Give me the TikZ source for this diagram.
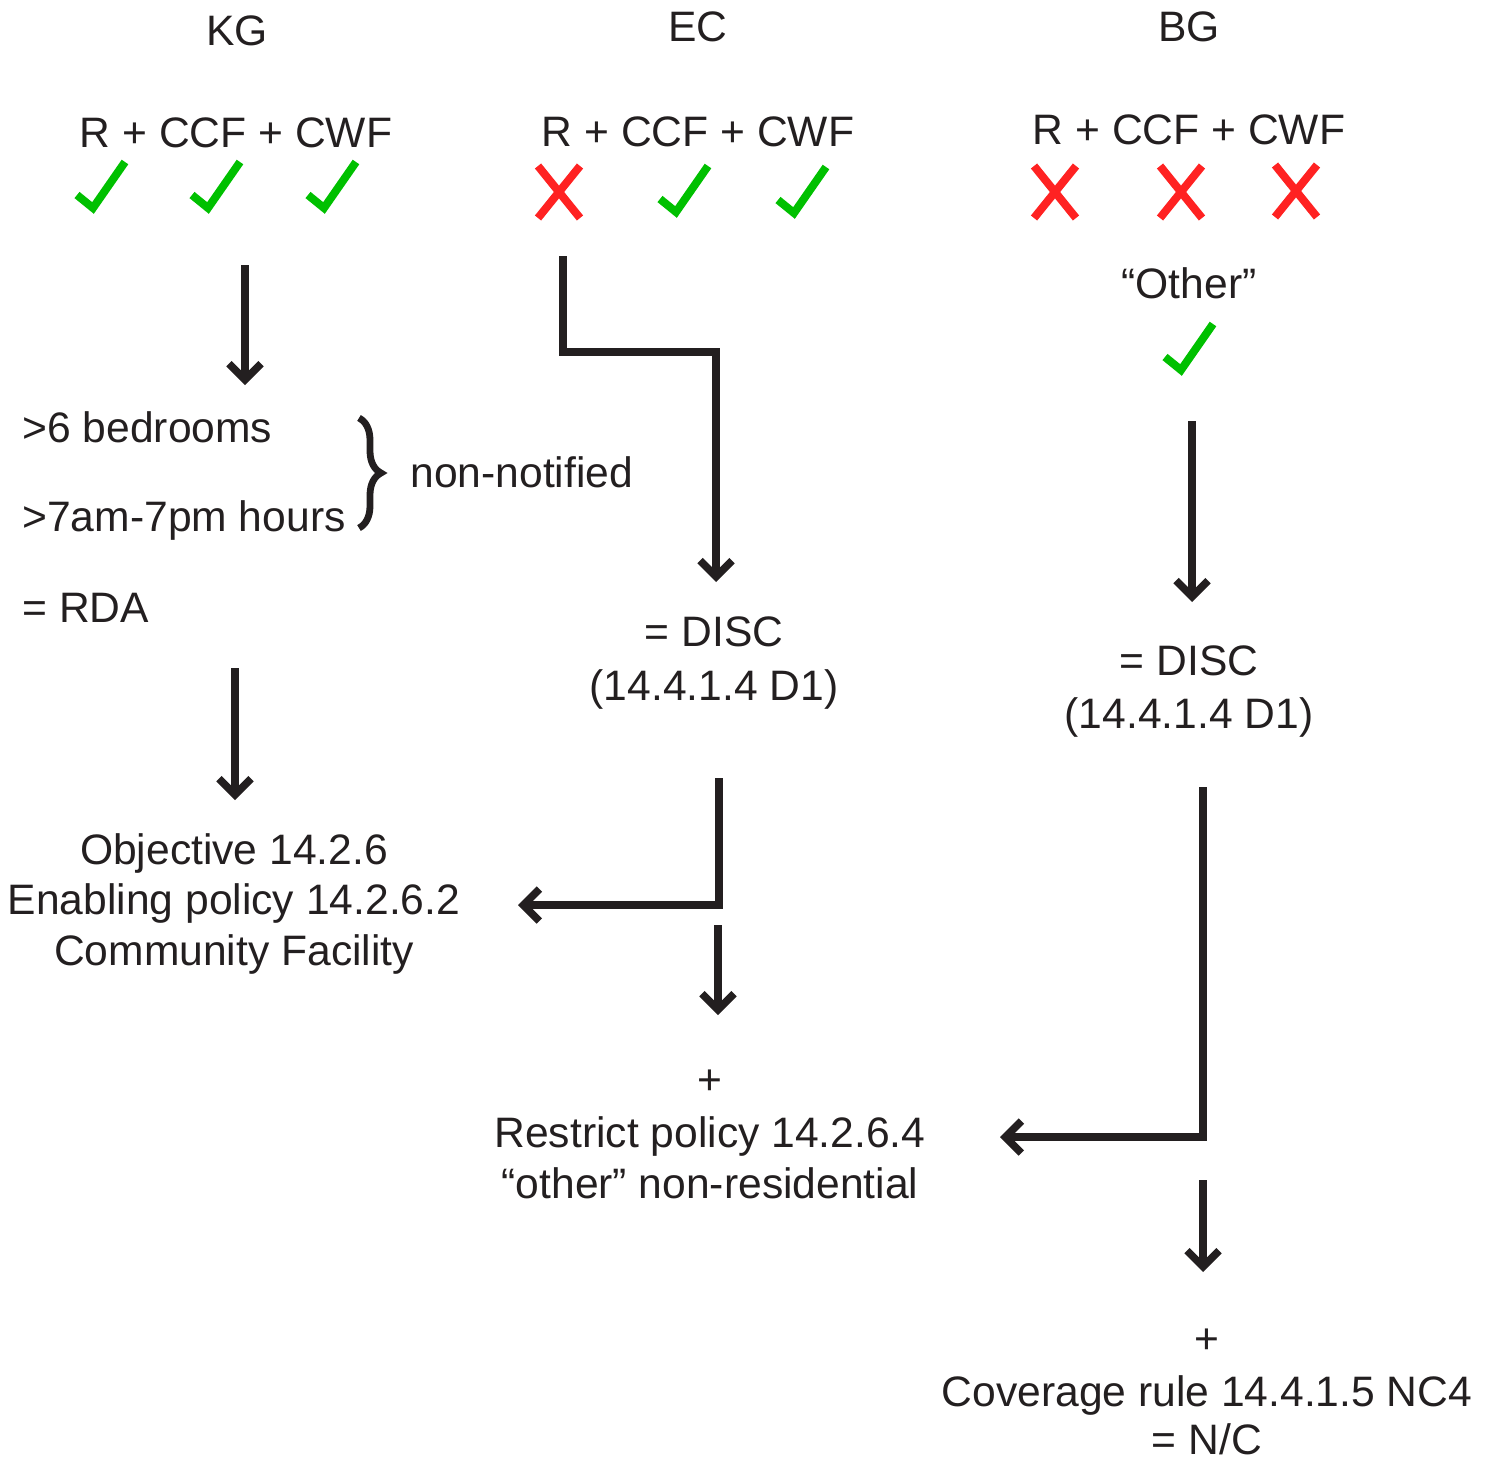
\documentclass[tikz,border=0pt]{standalone}
\usepackage{fontspec}
\setmainfont{Liberation Sans}
\usetikzlibrary{arrows.meta,decorations.pathreplacing}
\definecolor{ink}{HTML}{231F20}
\definecolor{okgreen}{HTML}{00C000}
\definecolor{nored}{HTML}{FF2222}
\begin{document}
\begin{tikzpicture}[x=0.5pt,y=-0.5pt,
 txt/.style={font=\fontsize{21.3}{25}\selectfont, text=ink, inner sep=0pt, anchor=base},
 ltxt/.style={txt, anchor=base west},
 flow/.style={draw=ink, line width=3.8pt, -{Straight Barb[length=8pt,width=16pt]}, line join=miter},
 chkline/.style={draw=okgreen, line width=4pt, line join=miter, line cap=butt},
 xline/.style={draw=nored, line width=4pt},
 chk/.pic={\draw[chkline] (-16,-13) -- (0,0) -- (32,-46);},
 crs/.pic={\draw[xline] (-21,-26) -- (21,26) (-21,26) -- (21,-26);},
]
\useasboundingbox (0,0) rectangle (1487,1461);
% headings
\node[txt] (kg) at (237,46) {KG};
\node[txt] (ec) at (698,42) {EC};
\node[txt] (bg) at (1189,42) {BG};
\node[txt] (kgf) at (236,148) {R + CCF + CWF};
\node[txt] (ecf) at (698,147) {R + CCF + CWF};
\node[txt] (bgf) at (1189,144) {R + CCF + CWF};
% marks
\pic at (93,208) {chk};
\pic at (208,208) {chk};
\pic at (324,208) {chk};
\pic at (559,192) {crs};
\pic at (676,212) {chk};
\pic at (794,213) {chk};
\pic at (1055,192) {crs};
\pic at (1181,192) {crs};
\pic at (1296,191) {crs};
\node[txt] (other) at (1189,298) {“Other”};
\pic at (1181,370) {chk};
% KG column
\node[ltxt] (bed) at (22,442) {>6 bedrooms};
\node[ltxt] (hrs) at (22,531) {>7am-7pm hours};
\node[ltxt] (rda) at (22,622) {= RDA};
\node[ltxt] (nn) at (410,487) {non-notified};
\draw[ink, line width=3.4pt, decorate, decoration={brace, amplitude=11pt}] (359,418) -- (359,528);
\node[txt] (obj1) at (234,864) {Objective 14.2.6};
\node[txt] (obj2) at (234,914) {Enabling policy 14.2.6.2};
\node[txt] (obj3) at (234,965) {Community Facility};
% EC column
\node[txt] (ecd1) at (714,646) {= DISC};
\node[txt] (ecd2) at (714,700) {(14.4.1.4 D1)};
\node[txt] (rp0) at (710,1094) {+};
\node[txt] (rp1) at (710,1147) {Restrict policy 14.2.6.4};
\node[txt] (rp2) at (710,1198) {“other” non-residential};
% BG column
\node[txt] (bgd1) at (1189,675) {= DISC};
\node[txt] (bgd2) at (1189,728) {(14.4.1.4 D1)};
\node[txt] (cv0) at (1207,1353) {+};
\node[txt] (cv1) at (1207,1406) {Coverage rule 14.4.1.5 NC4};
\node[txt] (cv2) at (1207,1454) {= N/C};
% connector coordinates
\coordinate (k1s) at (245,265); \coordinate (k1e) at (245,385);
\coordinate (k2s) at (235,668); \coordinate (k2e) at (235,800);
\coordinate (e1s) at (563,256); \coordinate (e1m) at (716,352); \coordinate (e1e) at (716,582);
\coordinate (e2s) at (719,778); \coordinate (e2m) at (719,905); \coordinate (e2e) at (518,905);
\coordinate (e3s) at (718,925); \coordinate (e3e) at (718,1015);
\coordinate (b1s) at (1192,421); \coordinate (b1e) at (1192,602);
\coordinate (b2s) at (1203,787); \coordinate (b2m) at (1203,1137); \coordinate (b2e) at (1000,1137);
\coordinate (b3s) at (1203,1180); \coordinate (b3e) at (1203,1272);
\draw[flow] (k1s) -- (k1e);
\draw[flow] (k2s) -- (k2e);
\draw[flow] (e1s) |- (e1m) -- (e1e);
\draw[flow] (e2s) -- (e2m) -- (e2e);
\draw[flow] (e3s) -- (e3e);
\draw[flow] (b1s) -- (b1e);
\draw[flow] (b2s) -- (b2m) -- (b2e);
\draw[flow] (b3s) -- (b3e);
\end{tikzpicture}
\end{document}
